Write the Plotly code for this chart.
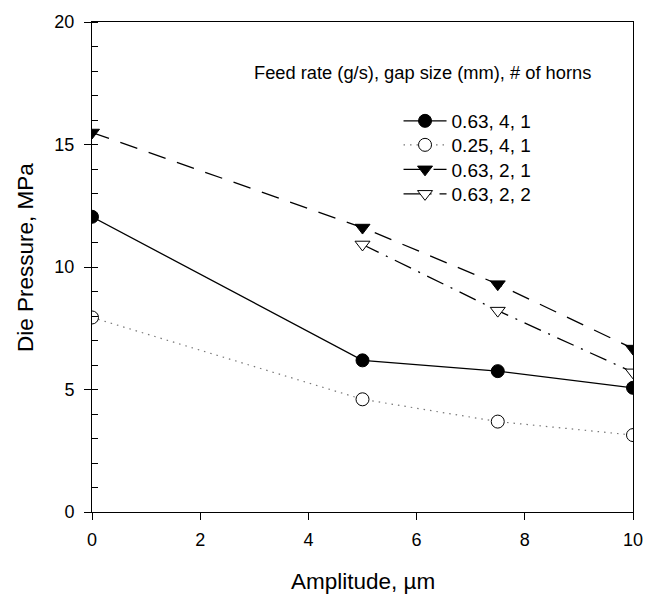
import plotly.graph_objects as go

amp_a = [0, 5, 7.5, 10]
s1 = [12.05, 6.19, 5.75, 5.07]   # 0.63, 4, 1
s2 = [7.94, 4.60, 3.69, 3.14]    # 0.25, 4, 1
s3 = [15.49, 11.61, 9.30, 6.67]  # 0.63, 2, 1
amp_b = [5, 7.5, 10]
s4 = [10.92, 8.22, 5.70]         # 0.63, 2, 2

names = ["0.63, 4, 1", "0.25, 4, 1", "0.63, 2, 1", "0.63, 2, 2"]
legend_title = "Feed rate (g/s), gap size (mm), # of horns"
x_title = "Amplitude, µm"
y_title = "Die Pressure, MPa"
x_ticks = [0, 2, 4, 6, 8, 10]
y_ticks = [0, 5, 10, 15, 20]

FONT = "Arial, 'Liberation Sans', sans-serif"

fig = go.Figure()
fig.add_trace(go.Scatter(
    x=amp_a, y=s1, name=names[0], mode="lines+markers", legend="legend",
    line=dict(color="black", width=1.3),
    marker=dict(symbol="circle", size=13, color="black", line=dict(color="black", width=1))))
fig.add_trace(go.Scatter(
    x=amp_a, y=s2, name=names[1], mode="lines+markers", legend="legend2",
    line=dict(color="#777777", width=1.2, dash="1.5px,5px"),
    marker=dict(symbol="circle", size=13, color="white", line=dict(color="black", width=1))))
fig.add_trace(go.Scatter(
    x=amp_a, y=s3, name=names[2], mode="lines+markers", legend="legend3",
    line=dict(color="black", width=1.3, dash="18px,12px"),
    marker=dict(symbol="triangle-down", size=13, color="black", line=dict(color="black", width=1))))
fig.add_trace(go.Scatter(
    x=amp_b, y=s4, name=names[3], mode="lines+markers", legend="legend4",
    line=dict(color="black", width=1.3, dash="18px,8px,2px,8px"),
    marker=dict(symbol="triangle-down", size=13, color="white", line=dict(color="black", width=1))))

leg_common = dict(x=0.5666, xanchor="left", yanchor="middle", font=dict(size=19),
                  bgcolor="rgba(0,0,0,0)", itemwidth=43)

fig.update_layout(
    width=646, height=594,
    margin=dict(l=92, r=13, t=22, b=82, autoexpand=False),
    paper_bgcolor="white", plot_bgcolor="white",
    font=dict(family=FONT, size=18, color="black"),
    showlegend=True,
    legend=dict(y=0.798, **leg_common),
    legend2=dict(y=0.749, **leg_common),
    legend3=dict(y=0.699, **leg_common),
    legend4=dict(y=0.649, **leg_common),
    annotations=[
        dict(text=legend_title, xref="paper", yref="paper", x=0.295, y=0.8968,
             xanchor="left", yanchor="middle", showarrow=False, font=dict(size=18.3)),
        dict(text=x_title, xref="paper", yref="paper", x=0.5, y=-0.142,
             xanchor="center", yanchor="middle", showarrow=False, font=dict(size=22.5)),
        dict(text=y_title, xref="paper", yref="paper", x=-0.124, y=0.52,
             xanchor="center", yanchor="middle", textangle=-90, showarrow=False,
             font=dict(size=22.5)),
    ],
)
fig.update_xaxes(range=[0, 10], tickvals=x_ticks, ticks="outside", ticklen=7, tickwidth=1,
                 tickcolor="black", showline=True, linecolor="black", linewidth=1, mirror=True,
                 showgrid=False, zeroline=False, ticklabelstandoff=4, ticklabeloverflow="allow")
fig.update_yaxes(range=[0, 20], tickvals=y_ticks, ticks="outside", ticklen=7, tickwidth=1,
                 tickcolor="black", showline=True, linecolor="black", linewidth=1, mirror=True,
                 showgrid=False, zeroline=False, ticklabelstandoff=6,
                 minor=dict(ticks="inside", dtick=1, ticklen=6, tickwidth=1, tickcolor="black",
                            showgrid=False))

fig.write_html("out.html", config={"displayModeBar": False},
               post_script="document.body.style.margin='0px';")
